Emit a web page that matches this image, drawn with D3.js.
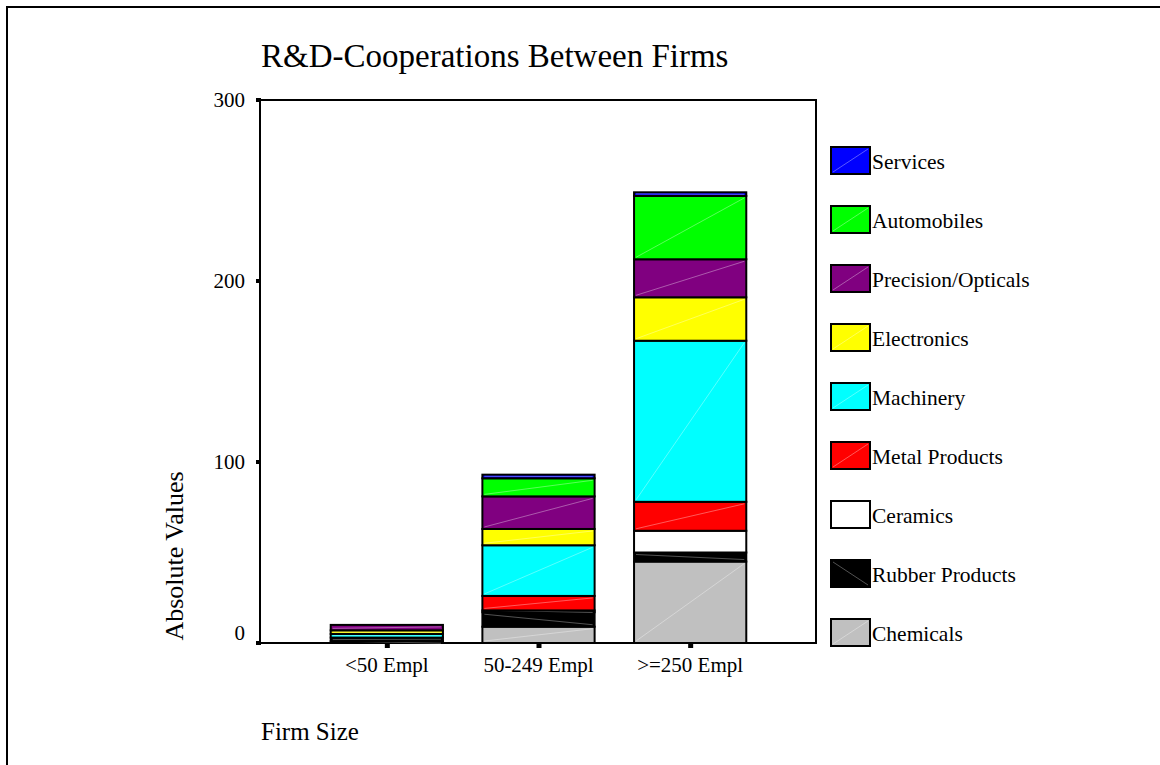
<html>
<head>
<meta charset="utf-8">
<title>R&amp;D-Cooperations Between Firms</title>
<script src="https://d3js.org/d3.v7.min.js"></script>
<style>
  body { margin: 0; background: #fff; }
  text { font-family: "Liberation Serif", "Times New Roman", serif; fill: #000; }
</style>
</head>
<body>
<div id="chart"></div>
<script>
  const width = 1160, height = 765;

  // data
  const firmSizes = ["<50 Empl", "50-249 Empl", ">=250 Empl"];
  const sectors = ["Chemicals", "Rubber Products", "Ceramics", "Metal Products", "Machinery",
                   "Electronics", "Precision/Opticals", "Automobiles", "Services"];
  const sectorColors = ["#c0c0c0", "#000000", "#ffffff", "#ff0000", "#00ffff",
                        "#ffff00", "#800080", "#00ff00", "#0000ff"];
  const chemicals  = [1, 9, 45];
  const rubber     = [2, 8, 5];
  const ceramics   = [0, 1, 12];
  const metal      = [0, 8, 16];
  const machinery  = [2, 28, 89];
  const electronics = [2, 9, 24];
  const precision  = [3, 18, 21];
  const automobiles = [0, 10, 35];
  const services   = [0, 2, 2];
  const yTicks = [0, 100, 200, 300];

  const seriesValues = [chemicals, rubber, ceramics, metal, machinery, electronics, precision, automobiles, services];
  const rows = firmSizes.map(function(f, i) {
    const r = { size: f };
    sectors.forEach(function(s, j) { r[s] = seriesValues[j][i]; });
    return r;
  });

  const plot = { left: 260, right: 816, top: 100, bottom: 643 };

  const svg = d3.select("#chart").append("svg")
    .attr("width", width)
    .attr("height", height);

  // outer frame (right and bottom edges fall outside the picture)
  svg.append("rect")
    .attr("x", 7).attr("y", 7)
    .attr("width", width).attr("height", height)
    .attr("fill", "none").attr("stroke", "#000").attr("stroke-width", 2);

  svg.append("text")
    .attr("x", 261).attr("y", 67)
    .style("font-size", "33px")
    .text("R&D-Cooperations Between Firms");

  const x = d3.scaleBand()
    .domain(firmSizes)
    .range([311, 766])
    .paddingInner(0.26)
    .paddingOuter(0.13);

  const y = d3.scaleLinear()
    .domain([0, 300])
    .range([plot.bottom, plot.top]);

  const stack = d3.stack().keys(sectors);
  const layers = stack(rows);
  const color = d3.scaleOrdinal().domain(sectors).range(sectorColors);

  // plot box
  svg.append("rect")
    .attr("x", plot.left).attr("y", plot.top)
    .attr("width", plot.right - plot.left).attr("height", plot.bottom - plot.top)
    .attr("fill", "none").attr("stroke", "#000").attr("stroke-width", 2);

  const layerG = svg.append("g").selectAll("g")
    .data(layers)
    .enter().append("g")
    .attr("fill", function(d) { return color(d.key); });

  const segs = layerG.selectAll("g")
    .data(function(d) {
      return d.filter(function(p) { return p[1] - p[0] > 0; })
        .map(function(p) { p.key = d.key; return p; });
    })
    .enter().append("g");

  segs.append("rect")
    .attr("x", function(d) { return x(d.data.size); })
    .attr("y", function(d) { return y(d[1]); })
    .attr("width", x.bandwidth())
    .attr("height", function(d) { return y(d[0]) - y(d[1]); })
    .attr("stroke", "#000")
    .attr("stroke-width", 2);

  // faint diagonal line through each segment (reversed and grey on black)
  function isDark(k) { return color(k) === "#000000"; }
  segs.append("line")
    .attr("x1", function(d) { return x(d.data.size) + 2; })
    .attr("y1", function(d) { return isDark(d.key) ? y(d[1]) + 2 : y(d[0]) - 2; })
    .attr("x2", function(d) { return x(d.data.size) + x.bandwidth() - 2; })
    .attr("y2", function(d) { return isDark(d.key) ? y(d[0]) - 2 : y(d[1]) + 2; })
    .attr("stroke", function(d) { return isDark(d.key) ? "#666" : "#fff"; })
    .attr("stroke-opacity", function(d) { return isDark(d.key) ? 0.8 : 0.35; })
    .attr("stroke-width", 1);

  // y axis
  const yAxis = svg.append("g");
  yAxis.selectAll("rect.tick")
    .data(yTicks)
    .enter().append("rect")
    .attr("x", plot.left - 4).attr("y", function(d) { return y(d) - 2; })
    .attr("width", 5).attr("height", 4)
    .attr("fill", "#000");
  yAxis.selectAll("text")
    .data(yTicks)
    .enter().append("text")
    .attr("x", 245).attr("y", function(d) { return y(d) + (d === 0 ? -3 : 7); })
    .attr("text-anchor", "end")
    .style("font-size", "21px")
    .text(function(d) { return d; });

  // x axis
  const xAxis = svg.append("g");
  xAxis.selectAll("rect")
    .data(firmSizes)
    .enter().append("rect")
    .attr("x", function(d) { return x(d) + x.bandwidth() / 2 - 2; })
    .attr("y", plot.bottom)
    .attr("width", 5).attr("height", 5)
    .attr("fill", "#000");
  xAxis.selectAll("text")
    .data(firmSizes)
    .enter().append("text")
    .attr("x", function(d) { return x(d) + x.bandwidth() / 2; })
    .attr("y", 672)
    .attr("text-anchor", "middle")
    .style("font-size", "21px")
    .text(function(d) { return d; });

  svg.append("text")
    .attr("transform", "translate(183,556) rotate(-90)")
    .attr("text-anchor", "middle")
    .style("font-size", "26px")
    .text("Absolute Values");

  svg.append("text")
    .attr("x", 261).attr("y", 740)
    .style("font-size", "25px")
    .text("Firm Size");

  // legend, top entry = last sector
  const legendItems = sectors.slice().reverse();
  const legend = svg.append("g")
    .selectAll("g")
    .data(legendItems)
    .enter().append("g")
    .attr("transform", function(d, i) { return "translate(831," + (147 + i * 59) + ")"; });

  legend.append("rect")
    .attr("width", 39).attr("height", 27)
    .attr("fill", function(d) { return color(d); })
    .attr("stroke", "#000").attr("stroke-width", 2);
  legend.append("line")
    .attr("x1", 2).attr("x2", 37)
    .attr("y1", function(d) { return isDark(d) ? 2 : 25; })
    .attr("y2", function(d) { return isDark(d) ? 25 : 2; })
    .attr("stroke", function(d) { return isDark(d) ? "#666" : "#fff"; })
    .attr("stroke-opacity", function(d) { return isDark(d) ? 0.8 : 0.35; });
  legend.append("text")
    .attr("x", 41).attr("y", 22)
    .style("font-size", "21.5px")
    .text(function(d) { return d; });
</script>
</body>
</html>
